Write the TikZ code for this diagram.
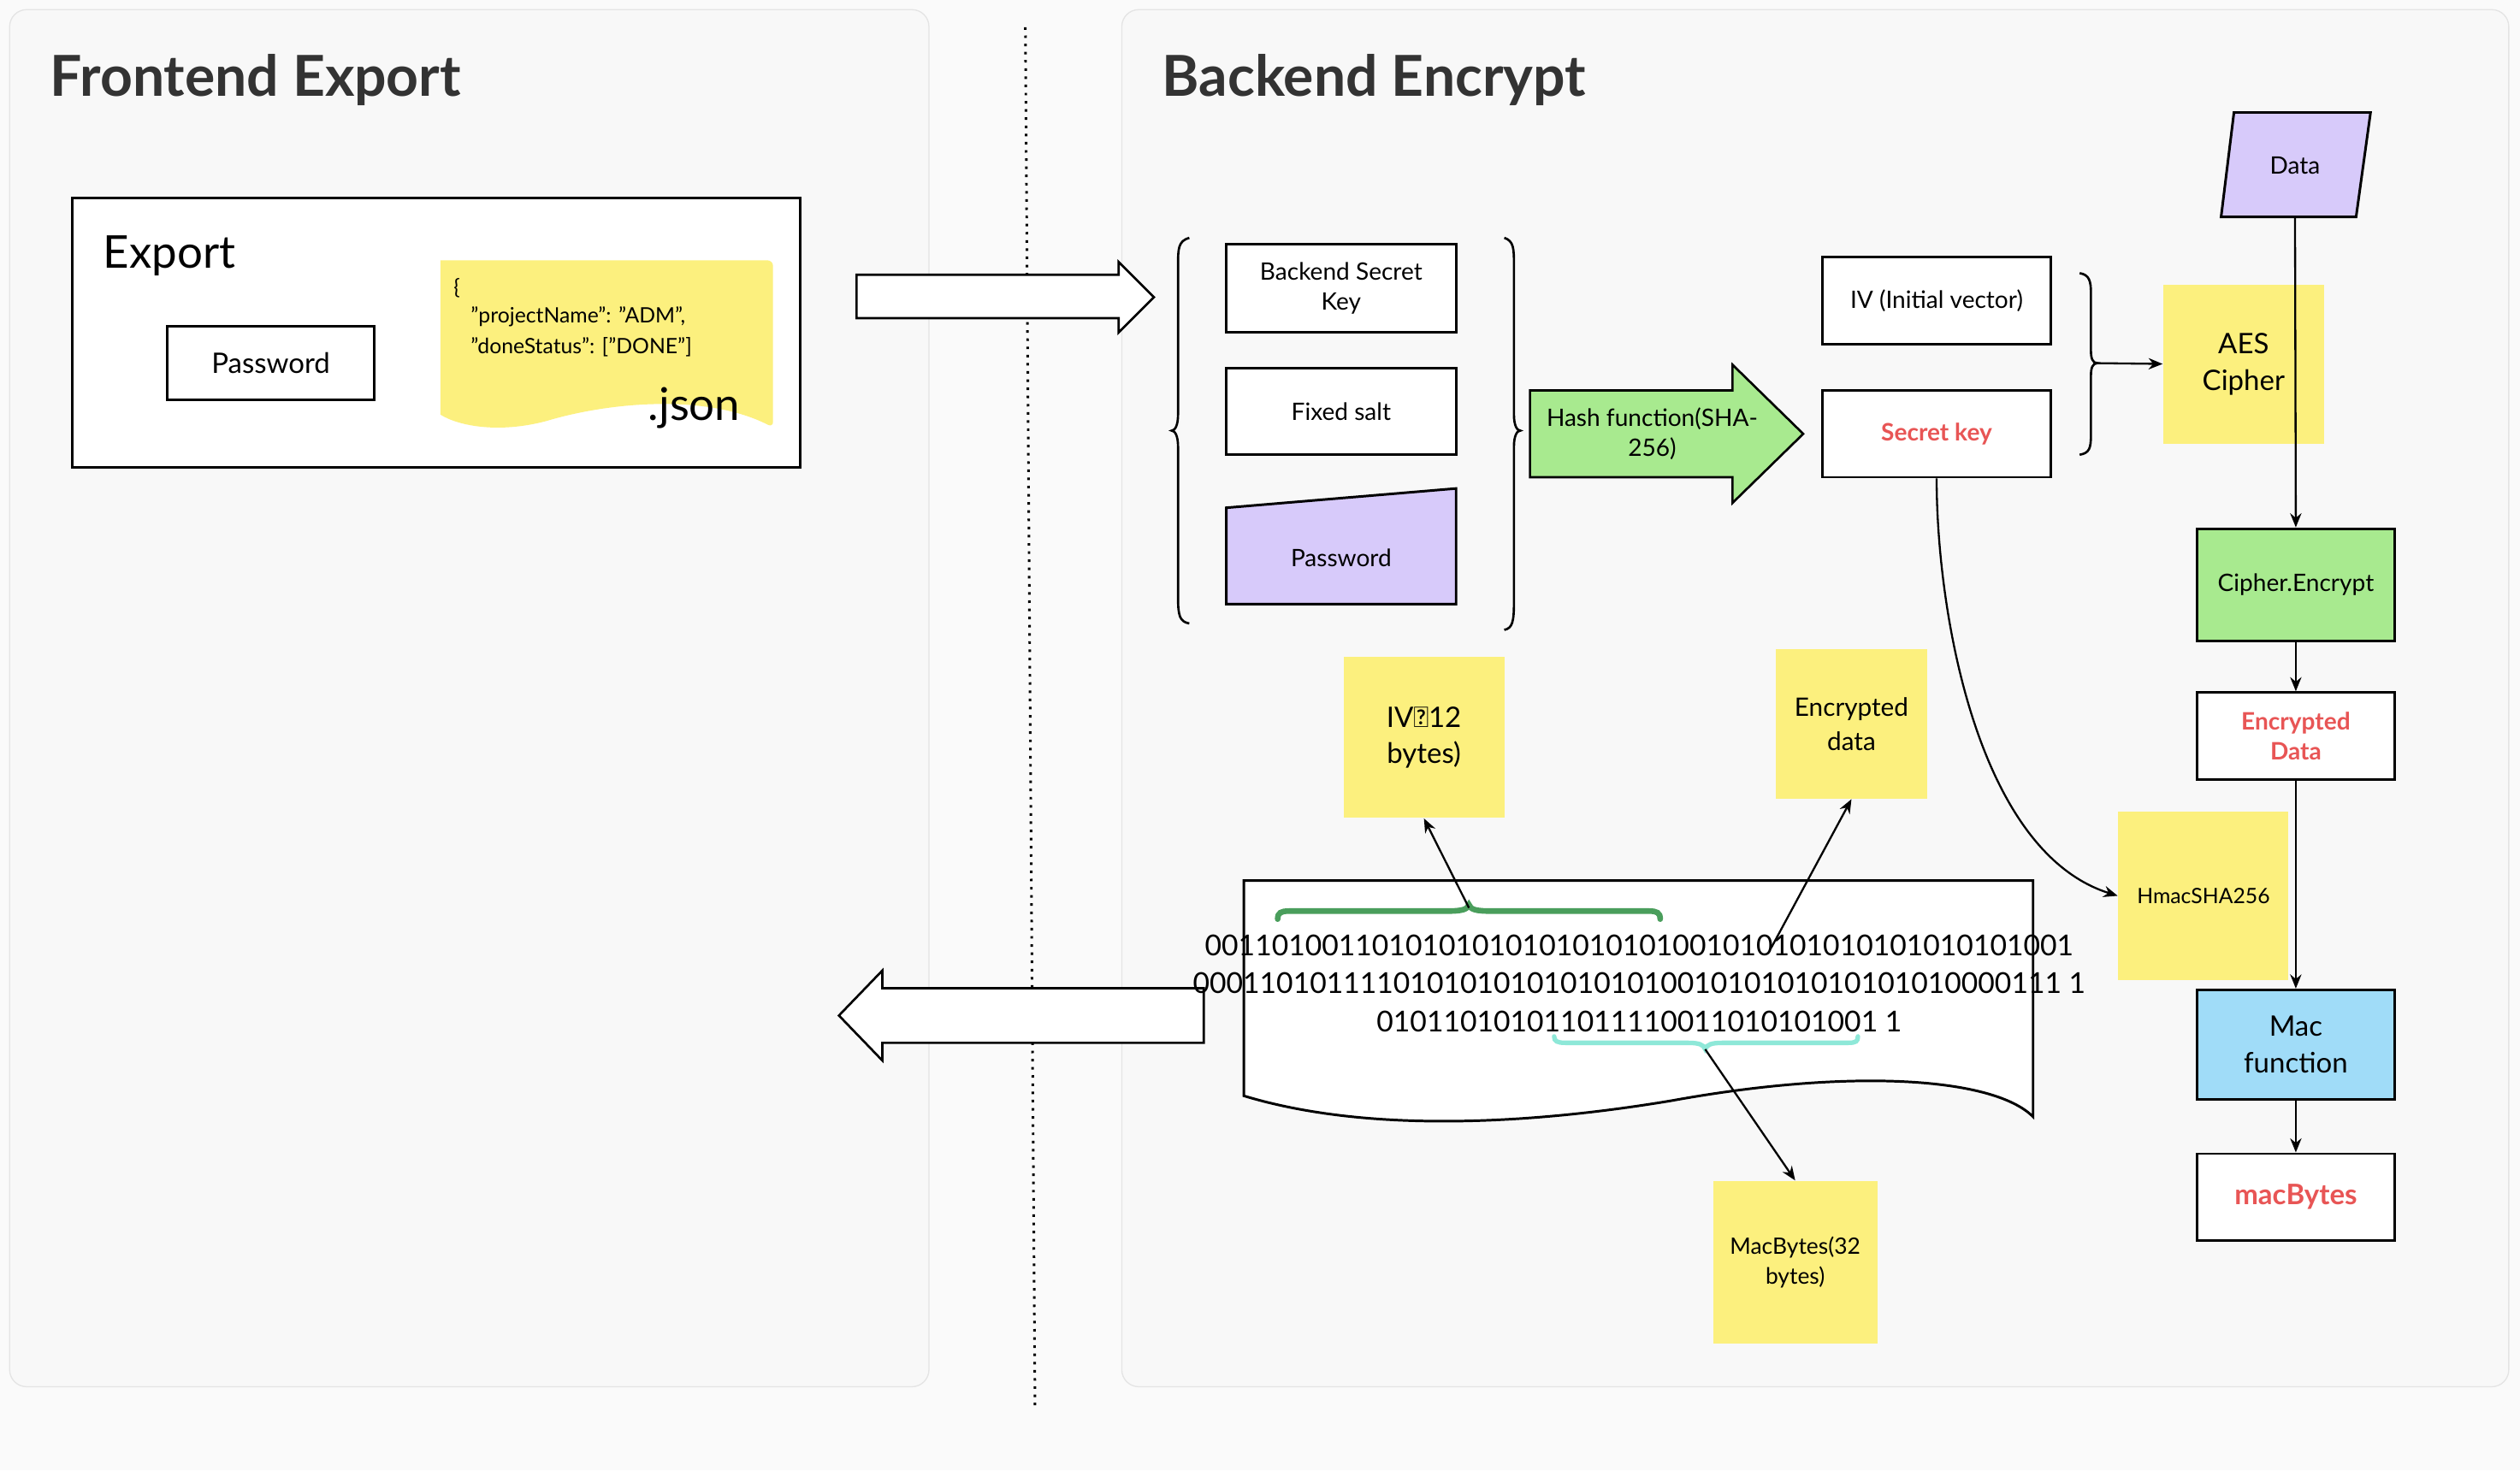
\documentclass[tikz,border=0pt]{standalone}
\usepackage{fontspec}
\setmainfont{Lato}
\usetikzlibrary{arrows.meta,decorations.pathreplacing,calc}
\definecolor{bg}{HTML}{FAFAFA}
\definecolor{panel}{HTML}{F8F8F8}
\definecolor{panelb}{HTML}{E4E4E4}
\definecolor{sticky}{HTML}{FCF07E}
\definecolor{purp}{HTML}{D7CAFA}
\definecolor{grn}{HTML}{A8EA8F}
\definecolor{blu}{HTML}{A0DCF8}
\definecolor{redt}{HTML}{E85555}
\definecolor{brg}{HTML}{4A9E5C}
\definecolor{brc}{HTML}{8EE8D8}
\begin{document}
\begin{tikzpicture}[x=0.02cm,y=-0.02cm,
  box/.style={draw=black,line width=0.9pt,fill=white,font=\fontsize{8.5}{10.5}\selectfont,align=center,inner sep=0pt},
  note/.style={fill=sticky,draw=none,align=center,inner sep=0pt,font=\fontsize{9}{12}\selectfont},
  arr/.style={-{Stealth[length=5pt,width=4pt]},line width=0.7pt},
  red/.style={text=redt,font=\fontsize{8.5}{10.5}\selectfont\bfseries}]
\fill[bg] (0,0) rectangle (1568,915);
\useasboundingbox (0,0) rectangle (1568,915);
\draw[panelb,fill=panel,rounded corners=6] (6,6) rectangle (578,863);
\draw[panelb,fill=panel,rounded corners=6] (698,6) rectangle (1561,863);
\coordinate (d1) at (638,17); \coordinate (d2) at (644,875);
\draw[dotted,line width=0.9pt] (d1) -- (d2);
\node[anchor=west,font=\fontsize{20}{24}\selectfont\bfseries,text=black!80] (t1) at (25,50) {Frontend Export};
\node[anchor=west,font=\fontsize{20}{24}\selectfont\bfseries,text=black!80] (t2) at (717,50) {Backend Encrypt};
% export
\draw[line width=0.9pt,fill=white] (45,123) rectangle (498,291);
\node[anchor=west,font=\fontsize{16}{19}\selectfont] (exp) at (58,159) {Export};
\node[box,minimum width=129*0.02cm,minimum height=46*0.02cm,font=\fontsize{10}{12}\selectfont] (pw1) at (168.5,226) {Password};
\fill[sticky] (274,162) [rounded corners=2]-- (481,162) -- (481,266) [sharp corners] .. controls (440,245) and (380,250) .. (340,262) .. controls (310,270) and (285,265) .. (274,258) -- cycle;
\node[anchor=north west,align=left,inner sep=0pt,font=\fontsize{7.5}{11}\selectfont] (js) at (282,173) {\{\\[-1pt]\hspace*{6pt}"projectName": "ADM",\\\hspace*{6pt}"doneStatus": ["DONE"]};
\node[font=\fontsize{16}{19}\selectfont] (jn) at (432,254) {.json};
% arrows
\draw[line width=0.8pt,fill=white] (533,171) -- (696,171) -- (696,163) -- (718,185) -- (696,207) -- (696,198) -- (533,198) -- cycle;
\draw[line width=0.8pt,fill=white] (749,615) -- (549,615) -- (549,604) -- (522,632) -- (549,660) -- (549,649) -- (749,649) -- cycle;
% braces
\draw[line width=0.8pt] (740,148) .. controls (733,150) and (733,155) .. (733,165) -- (733,258) .. controls (733,265) and (731,268) .. (729,268) .. controls (731,268) and (733,271) .. (733,278) -- (733,372) .. controls (733,383) and (734,387) .. (740,388);
\draw[line width=0.8pt] (936,148) .. controls (942,150) and (942,155) .. (942,165) -- (942,258) .. controls (942,265) and (944,268) .. (946,268) .. controls (944,268) and (942,271) .. (942,278) -- (942,375) .. controls (942,387) and (941,391) .. (936,392);
\node[box,minimum width=143*0.02cm,minimum height=55*0.02cm] (bsk) at (834.5,179.5) {Backend Secret\\Key};
\node[box,minimum width=143*0.02cm,minimum height=54*0.02cm] (fs) at (834.5,256) {Fixed salt};
\draw[line width=0.9pt,fill=purp] (763,316) -- (906,304) -- (906,376) -- (763,376) -- cycle;
\node[font=\fontsize{8.5}{10.5}\selectfont] (pw2) at (834.5,347) {Password};
% hash arrow
\draw[line width=0.8pt,fill=grn] (952,243) -- (1078,243) -- (1078,227) -- (1122,270) -- (1078,313) -- (1078,297) -- (952,297) -- cycle;
\node[align=center,font=\fontsize{8.5}{10.5}\selectfont] (hf) at (1028,270) {Hash function(SHA-\\256)};
\node[box,minimum width=142*0.02cm,minimum height=54*0.02cm] (iv) at (1205,187) {IV (Initial vector)};
\node[box,minimum width=142*0.02cm,minimum height=54*0.02cm,red] (sk) at (1205,270) {Secret key};
\draw[line width=0.8pt] (1294,170) .. controls (1300,171) and (1301,175) .. (1301,182) -- (1301,218) .. controls (1301,223) and (1302,226) .. (1305,226) .. controls (1302,226) and (1301,229) .. (1301,234) -- (1301,271) .. controls (1301,279) and (1300,282) .. (1294,283);
\coordinate (bt) at (1305,226);
\node[note,minimum width=100*0.02cm,minimum height=99*0.02cm,font=\fontsize{10}{13}\selectfont] (aes) at (1396,226.5) {AES\\Cipher};
\draw[arr] (bt) -- (aes.west);
\draw[line width=0.9pt,fill=purp] (1390,70) -- (1475,70) -- (1466,135) -- (1382,135) -- cycle;
\node[font=\fontsize{8.5}{10.5}\selectfont] (data) at (1428,103) {Data};
\coordinate (datab) at (1428,135);
\node[box,fill=grn,minimum width=123*0.02cm,minimum height=70*0.02cm] (ce) at (1428.5,364) {Cipher.Encrypt};
\draw[arr] (datab) -- (ce.north);
\node[box,minimum width=123*0.02cm,minimum height=54*0.02cm,red,align=center] (ed) at (1428.5,458) {Encrypted\\Data};
\draw[arr] (ce) -- (ed);
\node[note,minimum width=106*0.02cm,minimum height=105*0.02cm,font=\fontsize{7.5}{9}\selectfont] (hm) at (1371,557.5) {HmacSHA256};
\node[box,fill=blu,minimum width=123*0.02cm,minimum height=68*0.02cm,font=\fontsize{10}{13}\selectfont] (mf) at (1428.5,650) {Mac\\function};
\draw[arr] (ed) -- (mf);
\node[box,minimum width=123*0.02cm,minimum height=54*0.02cm,text=redt,font=\fontsize{10}{12}\selectfont\bfseries] (mb) at (1428.5,745) {macBytes};
\draw[arr] (mf) -- (mb);
\draw[arr] (sk.south) .. controls (1205,380) and (1230,530) .. (hm.west);
% notes
\node[note,minimum width=100*0.02cm,minimum height=100*0.02cm,font=\fontsize{10}{13}\selectfont] (ivn) at (886,459) {IV（12\\bytes)};
\node[note,minimum width=94*0.02cm,minimum height=93*0.02cm,font=\fontsize{9}{12}\selectfont] (edn) at (1152,450.5) {Encrypted\\data};
\node[note,minimum width=102*0.02cm,minimum height=101*0.02cm,font=\fontsize{8}{10.5}\selectfont] (mbn) at (1117,785.5) {MacBytes(32\\bytes)};
% document
\draw[line width=0.9pt,fill=white] (774,548) -- (1265,548) -- (1265,695) .. controls (1240,670) and (1150,665) .. (1040,685) .. controls (950,700) and (850,705) .. (774,682) -- cycle;
\node[align=center,font=\fontsize{10.2}{13.6}\selectfont] (bin) at (1020,612) {0011010011010101010101010101001010101010101010101001\\0001101011110101010101010101001010101010101010000111 1\\010110101011011110011010101001 1};
\draw[brg,line width=2pt,line cap=round] (795,572) .. controls (795,568) and (797,567) .. (802,567) -- (900,567) .. controls (910,567) and (913,566) .. (914,563) .. controls (915,566) and (918,567) .. (928,567) -- (1026,567) .. controls (1031,567) and (1033,568) .. (1033,572);
\coordinate (gb) at (914,565);
\draw[brc,line width=1.6pt,line cap=round] (967,645) .. controls (967,648) and (969,649) .. (974,649) -- (1050,649) .. controls (1057,649) and (1060,650) .. (1061,653) .. controls (1062,650) and (1065,649) .. (1072,649) -- (1150,649) .. controls (1155,649) and (1156,648) .. (1156,645);
\coordinate (cb) at (1061,653);
\coordinate (es) at (1102,590);
\draw[arr] (gb) -- (ivn.south);
\draw[arr] (es) -- (edn.south);
\draw[arr] (cb) -- (mbn.north);
\end{tikzpicture}
\end{document}
